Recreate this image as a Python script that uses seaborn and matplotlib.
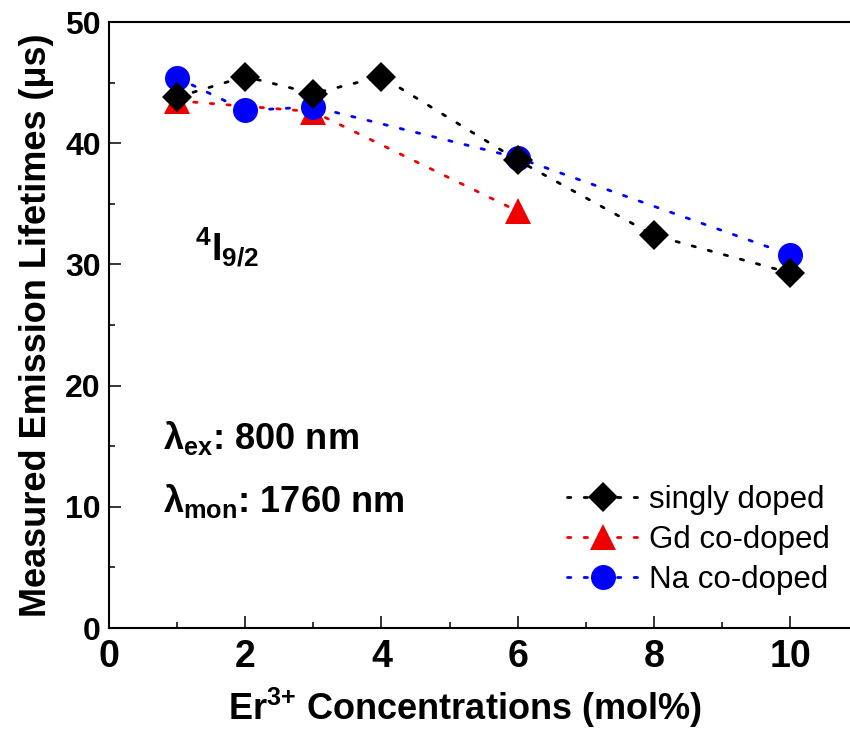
import matplotlib
matplotlib.use("Agg")
import matplotlib.pyplot as plt
import seaborn as sns
from matplotlib.ticker import MultipleLocator

# Er3+ concentration (mol%) and measured 4I9/2 emission lifetimes (us)
conc_singly = [1, 2, 3, 4, 6, 8, 10]
life_singly = [43.8, 45.5, 44.1, 45.5, 38.6, 32.4, 29.3]

conc_gd = [1, 3, 6]
life_gd = [43.5, 42.6, 34.4]

conc_na = [1, 2, 3, 6, 10]
life_na = [45.4, 42.7, 43.0, 38.8, 30.8]

x_ticks = [0, 2, 4, 6, 8, 10]
y_ticks = [0, 10, 20, 30, 40, 50]

sns.set_theme(style="ticks")
plt.rcParams["font.family"] = ["Liberation Sans", "DejaVu Sans"]
plt.rcParams["mathtext.fontset"] = "custom"
plt.rcParams["mathtext.rm"] = "Liberation Sans:bold"
plt.rcParams["mathtext.it"] = "Liberation Sans:bold"
plt.rcParams["mathtext.bf"] = "Liberation Sans:bold"
plt.rcParams["mathtext.default"] = "rm"
for key in ["text.color", "axes.labelcolor", "xtick.color", "ytick.color", "axes.edgecolor"]:
    plt.rcParams[key] = "black"

W, H = 850, 733
fig = plt.figure(figsize=(W / 100, H / 100), dpi=100)
px_per_unit = 68.1
ax = fig.add_axes([109 / W, 105 / H, 11 * px_per_unit / W, 606 / H])

dots = (0, (1.2, 4.8))
common = dict(ax=ax, lw=2, linestyle=dots, markeredgewidth=0, dash_capstyle="round")

sns.lineplot(x=conc_gd, y=life_gd, color="#ee0000", marker="^", markersize=19,
             label="Gd co-doped", zorder=3, **common)
sns.lineplot(x=conc_na, y=life_na, color="#0000ff", marker="o", markersize=18,
             label="Na co-doped", zorder=4, **common)
sns.lineplot(x=conc_singly, y=life_singly, color="black", marker="D", markersize=15,
             label="singly doped", zorder=5, **common)

ax.set_xlim(0, 11)
ax.set_ylim(0, 50)
ax.set_xticks(x_ticks)
ax.set_yticks(y_ticks)
ax.xaxis.set_minor_locator(MultipleLocator(1))
ax.yaxis.set_minor_locator(MultipleLocator(5))

for side in ["left", "bottom", "top"]:
    ax.spines[side].set_linewidth(1.5)
ax.spines["right"].set_visible(False)

ax.tick_params(which="both", direction="in", width=1.1, color="black")
ax.tick_params(which="major", length=8.6)
ax.tick_params(which="minor", length=4.3)
ax.tick_params(axis="y", labelsize=23, pad=6)
ax.tick_params(axis="x", labelsize=27, pad=8)
for lab in ax.get_yticklabels() + ax.get_xticklabels():
    lab.set_fontweight("bold")

ax.set_xlabel("Er$^{3{+}}$ Concentrations (mol%)", fontsize=26, fontweight="bold", labelpad=4)
ax.xaxis.set_label_coords(0.475, -0.095)
ax.set_ylabel("Measured Emission Lifetimes (μs)", fontsize=26, fontweight="bold", labelpad=8)

ax.text(1.26, 30.3, "$^{4}$I$_{9/2}$", fontsize=27, fontweight="bold", va="baseline")
ax.text(0.79, 14.8, r"$\lambda_{ex}$: 800 nm", fontsize=26, fontweight="bold", va="baseline")
ax.text(0.79, 9.6, r"$\lambda_{mon}$: 1760 nm", fontsize=26, fontweight="bold", va="baseline")

handles, labels = ax.get_legend_handles_labels()
order = [labels.index(n) for n in ["singly doped", "Gd co-doped", "Na co-doped"]]
ax.legend([handles[i] for i in order], [labels[i] for i in order],
          loc="center left", bbox_to_anchor=(567 / W, 1 - 540 / H),
          bbox_transform=fig.transFigure, frameon=False, fontsize=22.5,
          handlelength=2.3, handletextpad=0.33, labelspacing=0.33,
          borderpad=0, borderaxespad=0, numpoints=1)

fig.savefig("out.png", dpi=100)
